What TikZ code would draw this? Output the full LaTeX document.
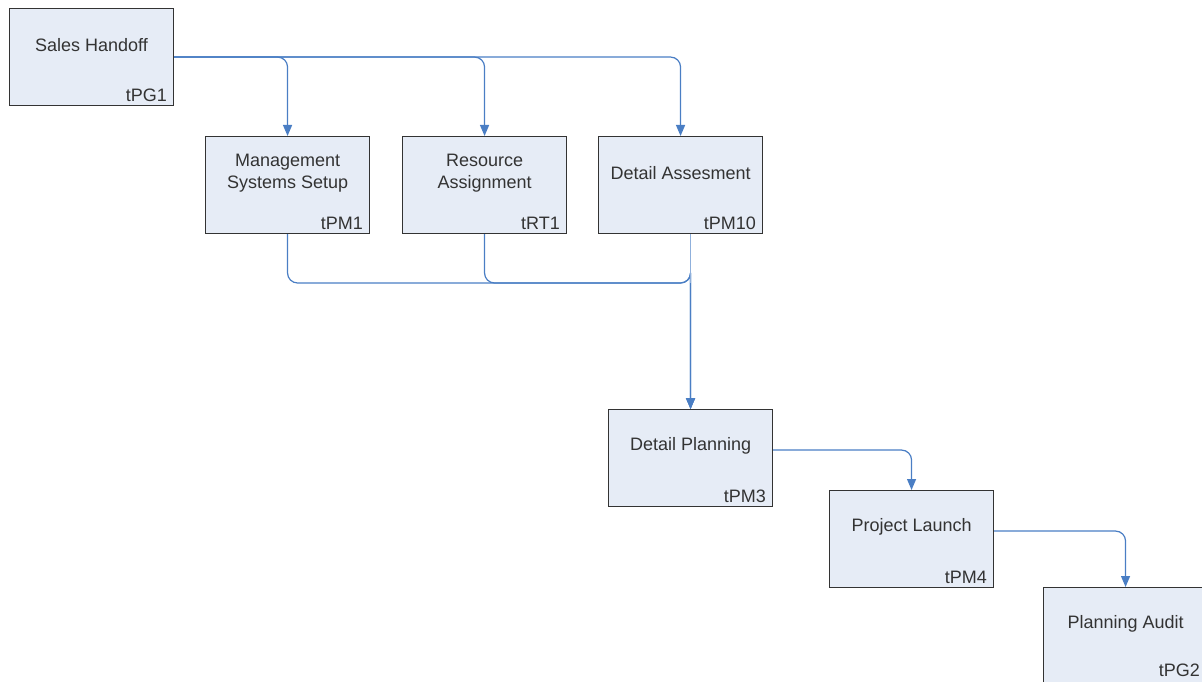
\documentclass[tikz,border=0pt]{standalone}
\usepackage{fontspec}
\setmainfont{Liberation Sans}
\usetikzlibrary{arrows.meta,calc}
\definecolor{boxfill}{HTML}{E6ECF6}
\definecolor{boxdraw}{HTML}{333333}
\definecolor{conncol}{HTML}{4A7EC4}
\definecolor{connlight}{HTML}{8FB0DC}
\definecolor{txtcol}{HTML}{333333}
\tikzset{
  task/.style={draw=boxdraw, line width=1.1pt, fill=boxfill, minimum width=164pt, minimum height=97pt, inner sep=0pt, anchor=north west},
  ttl/.style={font=\fontsize{18}{22}\selectfont, text=txtcol, align=center},
  code/.style={font=\fontsize{18}{20}\selectfont, text=txtcol, anchor=south east, inner sep=2pt},
  conn/.style={draw=conncol, line width=1.2pt, rounded corners=10pt, -{Triangle[width=9pt,length=11pt]}},
}
\begin{document}
\begin{tikzpicture}[x=1pt,y=1pt]
\useasboundingbox (0,0) rectangle (1202,-682);
\begin{scope}
\clip (0,0) rectangle (1202,-682);
% boxes
\node[task] (sh)  at (9,-8) {};
\node[task] (mss) at (205,-136) {};
\node[task] (ra)  at (402,-136) {};
\node[task] (da)  at (598,-136) {};
\node[task] (dp)  at (608,-409) {};
\node[task] (pl)  at (829,-490) {};
\node[task] (pa)  at (1043,-587) {};
% titles
\node[ttl] (shT)  at ($(sh.north)+(0,-37)$) {Sales Handoff};
\node[ttl] (mssT) at ($(mss.north)+(0,-37)$) {Management\\Systems Setup};
\node[ttl] (raT)  at ($(ra.north)+(0,-37)$) {Resource\\Assignment};
\node[ttl] (daT)  at ($(da.north)+(0,-37)$) {Detail Assesment};
\node[ttl] (dpT)  at ($(dp.north)+(0,-37)$) {Detail Planning};
\node[ttl] (plT)  at ($(pl.north)+(0,-37)$) {Project Launch};
\node[ttl] (paT)  at ($(pa.north)+(0,-37)$) {Planning Audit};
% codes
\node[code] (shC)  at ($(sh.south east)+(-5,2)$) {tPG1};
\node[code] (mssC) at ($(mss.south east)+(-5,2)$) {tPM1};
\node[code] (raC)  at ($(ra.south east)+(-5,2)$) {tRT1};
\node[code] (daC)  at ($(da.south east)+(-5,2)$) {tPM10};
\node[code] (dpC)  at ($(dp.south east)+(-5,2)$) {tPM3};
\node[code] (plC)  at ($(pl.south east)+(-5,2)$) {tPM4};
\node[code] (paC)  at ($(pa.south east)+(-6,6)$) {tPG2};
% connectors from Sales Handoff
\draw[conn] (sh.east) -| (mss.north);
\draw[conn] (sh.east) -| (ra.north);
\draw[conn] (sh.east) -| (da.north);
% into Detail Planning
\coordinate (merge) at ($(dp.north)+(0,126)$);
\draw[conn] (mss.south) |- (merge) -| (dp.north);
\draw[conn] (ra.south) |- (merge) -| (dp.north);
\draw[draw=connlight, line width=1pt] (da.south -| dp.north) -- ($(dp.north)+(0,89)$);
\draw[conn] (merge) -- (dp.north);
% chain
\draw[conn] ($(dp.east)+(0,8)$) -| (pl.north);
\draw[conn] ($(pl.east)+(0,8)$) -| (pa.north);
\end{scope}
\end{tikzpicture}
\end{document}
